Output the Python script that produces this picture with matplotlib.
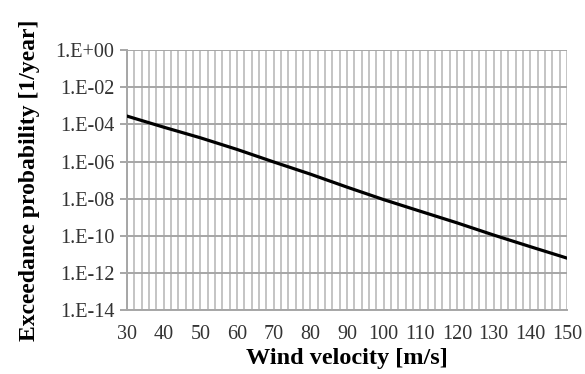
import matplotlib
matplotlib.use("Agg")
import matplotlib.pyplot as plt
import numpy as np

# wind velocity [m/s] and annual exceedance probability
velocity = [30, 40, 50, 60, 70, 80, 90, 100, 110, 120, 130, 140, 150]
exceedance = [2.8e-4, 7.1e-5, 1.9e-5, 4.5e-6, 9.5e-7, 2.1e-7, 4.2e-8,
              8.9e-9, 2.1e-9, 5.0e-10, 1.1e-10, 2.6e-11, 6.3e-12]

y_ticks = [1e0, 1e-2, 1e-4, 1e-6, 1e-8, 1e-10, 1e-12, 1e-14]
y_labels = ["1.E+00", "1.E-02", "1.E-04", "1.E-06", "1.E-08",
            "1.E-10", "1.E-12", "1.E-14"]
x_ticks = list(range(30, 151, 10))

plt.rcParams['font.family'] = ['Liberation Serif', 'DejaVu Serif']

fig = plt.figure(figsize=(5.85, 3.74), dpi=100)
ax = fig.add_axes([0.217, 0.171, 0.752, 0.695])

# light vertical grid every 2 m/s
for xv in np.arange(30, 151, 2):
    ax.axvline(xv, color="#c4c4c4", lw=1.4, zorder=1)
# darker horizontal grid at labelled decades
for yv in y_ticks:
    ax.axhline(yv, color="#a6a6a6", lw=1.4, zorder=1)

ax.plot(velocity, exceedance, color="black", lw=2.3, zorder=3)

ax.set_yscale("log")
ax.set_xlim(30, 150)
ax.set_ylim(1e-14, 1e0)
ax.set_yticks(y_ticks)
ax.set_yticklabels(y_labels)
ax.yaxis.set_minor_locator(matplotlib.ticker.NullLocator())
ax.set_xticks(x_ticks)

for s in ["top", "right"]:
    ax.spines[s].set_visible(False)
for s in ["left", "bottom"]:
    ax.spines[s].set_color("#a6a6a6")
    ax.spines[s].set_linewidth(1.4)

ax.tick_params(axis="y", length=5, width=1.4, colors="#a6a6a6",
               labelcolor="#333333", labelsize=14.5, pad=4)
ax.tick_params(axis="x", length=0, labelsize=14.5, labelcolor="#333333", pad=11)

ax.set_xlabel("Wind velocity [m/s]", fontsize=17.5, fontweight="bold", labelpad=3)
ax.set_ylabel("Exceedance probability [1/year]", fontsize=17,
              fontweight="bold", labelpad=11)

fig.savefig("out.png", dpi=100)
